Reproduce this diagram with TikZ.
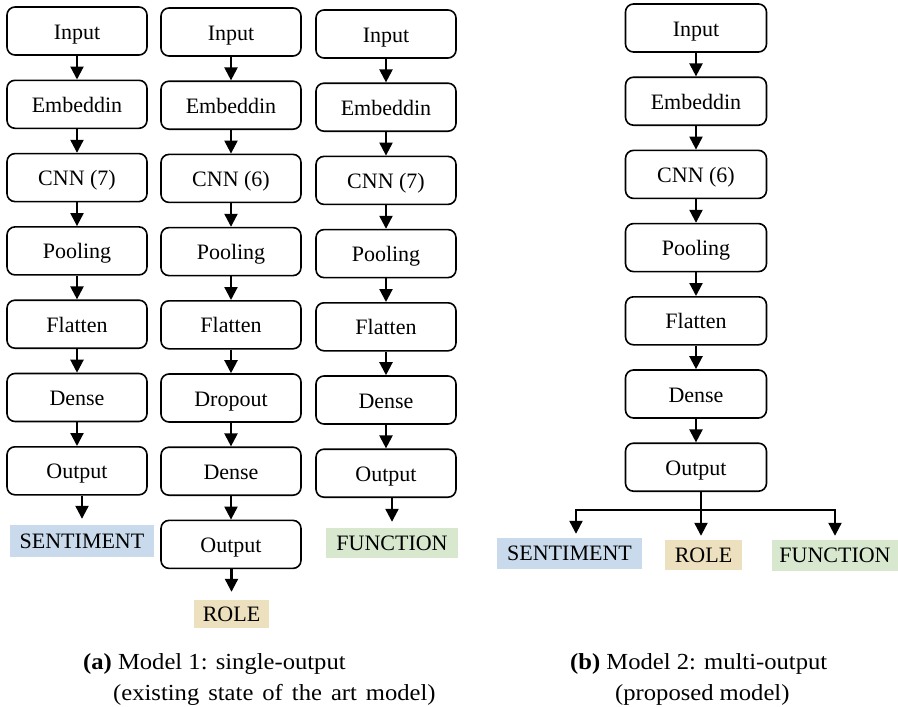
\documentclass[tikz,border=0pt]{standalone}
\usepackage{fontspec}
\setmainfont{Liberation Serif}
\newfontfamily\capfont[FakeStretch=1.07]{Liberation Serif}
\usetikzlibrary{arrows.meta}
\definecolor{sentblue}{RGB}{200,218,235}
\definecolor{roletan}{RGB}{237,224,190}
\definecolor{funcgreen}{RGB}{215,232,207}
\begin{document}
\begin{tikzpicture}[x=1pt,y=-1pt,
  layer/.style={draw, line width=1.6pt, rounded corners=8pt, minimum width=140pt,
    minimum height=48pt, inner sep=0pt, text height=20pt, text depth=4pt,
    font=\fontsize{22}{26}\selectfont},
  lab/.style={inner sep=0pt, text height=16pt, text depth=1.5pt,
    font=\fontsize{22}{26}\selectfont},
  captext/.style={inner sep=0pt, anchor=base west, font=\capfont\fontsize{23}{28}\selectfont},
  arr/.style={line width=2.2pt, -{Triangle[width=13pt,length=13pt]}},
  ln/.style={line width=2.2pt}]
\useasboundingbox (0,0) rectangle (898,707);

% Model 1, column 1
\foreach \t [count=\i from 0] in {Input,Embeddin,{CNN (7)},Pooling,Flatten,Dense,Output}
  \node[layer] (a\i) at (77,{31+73.3*\i}) {\t};
% column 2
\foreach \t [count=\i from 0] in {Input,Embeddin,{CNN (6)},Pooling,Flatten,Dropout,Dense,Output}
  \node[layer] (b\i) at (231,{32+73.2*\i}) {\t};
% column 3
\foreach \t [count=\i from 0] in {Input,Embeddin,{CNN (7)},Pooling,Flatten,Dense,Output}
  \node[layer] (c\i) at (386,{34+73.2*\i}) {\t};
% Model 2
\foreach \t [count=\i from 0] in {Input,Embeddin,{CNN (6)},Pooling,Flatten,Dense,Output}
  \node[layer, minimum width=141pt] (d\i) at (696,{28+73.2*\i}) {\t};

\foreach \i in {1,...,6}{
  \pgfmathtruncatemacro\j{\i-1}
  \draw[arr] (a\j) -- (a\i);
  \draw[arr] (c\j) -- (c\i);
  \draw[arr] (d\j) -- (d\i);
}
\foreach \i in {1,...,7}{
  \pgfmathtruncatemacro\j{\i-1}
  \draw[arr] (b\j) -- (b\i);
}

% Model 1 outputs
\node[lab, fill=sentblue, minimum width=144pt, minimum height=32pt] (s1) at (82,541) {SENTIMENT};
\node[lab, fill=roletan, minimum width=75pt, minimum height=28pt] (r1) at (231.5,614) {ROLE};
\node[lab, fill=funcgreen, minimum width=132pt, minimum height=30pt] (f1) at (392,543) {FUNCTION};
\draw[arr, shorten >=6pt] (s1.north |- a6.south) -- (s1.north);
\draw[arr, shorten >=8pt] (r1.north |- b7.south) -- (r1.north);
\draw[arr, shorten >=6pt] (f1.north |- c6.south) -- (f1.north);

% Model 2 outputs
\node[lab, fill=sentblue, minimum width=145pt, minimum height=31pt] (s2) at (569.5,553.5) {SENTIMENT};
\node[lab, fill=roletan, minimum width=77pt, minimum height=30pt] (r2) at (703.5,555) {ROLE};
\node[lab, fill=funcgreen, minimum width=126pt, minimum height=31pt] (f2) at (835,555.5) {FUNCTION};
\coordinate (jl) at (576,510);
\coordinate (jm) at (701,510);
\coordinate (jr) at (835,510);
\draw[ln] (jm |- d6.south) -- (jm);
\draw[ln, line cap=rect] (jl) -- (jr);
\draw[arr, shorten >=4pt] (jl) -- (jl |- s2.north);
\draw[arr, shorten >=4pt] (jm) -- (jm |- r2.north);
\draw[arr, shorten >=4pt] (jr) -- (jr |- f2.north);

% Captions
\node[captext] (ca1) at (83,669) {\textbf{(a)} Model 1: single-output};
\node[captext] (ca2) at (113,700) {\spaceskip=9pt(existing state of the art model)};
\node[captext] (cb1) at (570,669) {\textbf{(b)} Model 2: multi-output};
\node[captext] (cb2) at (615,700) {(proposed model)};
\end{tikzpicture}
\end{document}
